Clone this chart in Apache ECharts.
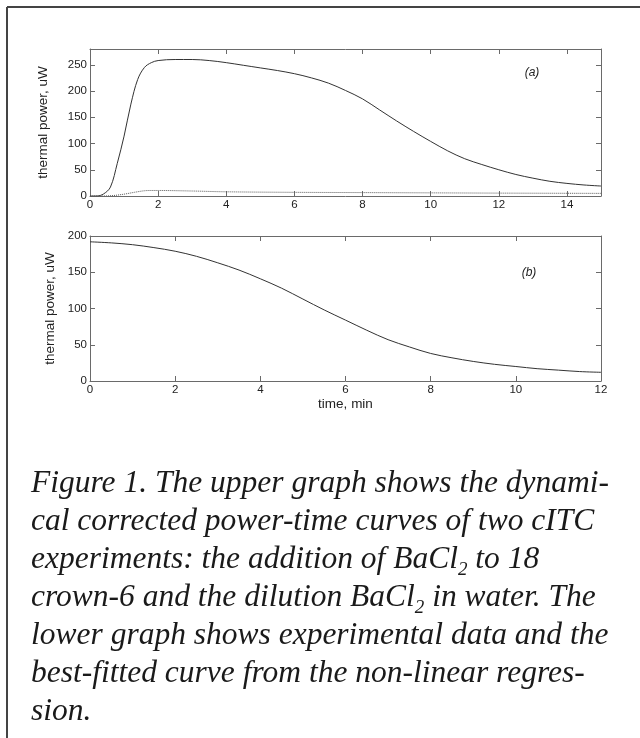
<!DOCTYPE html>
<html>
<head>
<meta charset="utf-8">
<script src="https://cdn.jsdelivr.net/npm/echarts@6/dist/echarts.min.js"></script>
<style>
html, body { margin: 0; padding: 0; background: #fff; }
#chart { width: 640px; height: 738px; }
</style>
</head>
<body>
<div id="chart"></div>
<script>
// (a) upper graph: addition of BaCl2 to 18-crown-6 (solid) and dilution (dotted)
var timeA = [0, 0.2, 0.4, 0.6, 0.8, 1.0, 1.2, 1.4, 1.6, 1.8, 2.0, 2.5, 3, 3.5, 4, 4.5, 5, 5.5, 6, 6.5,
             7, 7.5, 8, 8.5, 9, 9.5, 10, 10.5, 11, 11.5, 12, 12.5, 13, 13.5, 14, 14.5, 15];
var powerA = [0, 0, 4, 17, 62, 114, 175, 222, 245, 254, 258, 260, 260, 258, 254, 249, 244, 239, 233, 225,
              215, 201, 185, 164, 143, 123, 104, 86, 71, 60, 50, 41, 34, 28, 24, 21, 19];
var timeDil = [0, 0.4, 0.7, 1.0, 1.3, 1.6, 1.8, 2.0, 3, 4, 6, 8, 10, 12, 15];
var powerDil = [0, 0, 1, 3.5, 7, 10, 10.5, 10.5, 9.5, 8, 7, 6.5, 6, 5.5, 5];

// (b) lower graph: experimental data / fitted curve
var timeB = [0, 0.5, 1, 1.5, 2, 2.5, 3, 3.5, 4, 4.5, 5, 5.5, 6, 6.5, 7, 7.5, 8, 8.5, 9, 9.5, 10, 10.5, 11, 11.5, 12];
var powerB = [192, 190.5, 188, 184, 179, 172, 163, 153, 141, 128, 113, 98, 84, 70, 57, 47, 38, 32, 27, 23, 20, 17, 15, 13, 12];

var captionLines = [
    'Figure 1. The upper graph shows the dynami-',
    'cal corrected power-time curves of two cITC',
    'experiments: the addition of BaCl{s|2} to 18',
    'crown-6 and the dilution BaCl{s|2} in water. The',
    'lower graph shows experimental data and the',
    'best-fitted curve from the non-linear regres-',
    'sion.'
];

function pairs(xs, ys) {
    return xs.map(function (x, i) { return [x, ys[i]]; });
}

var axisGrey = '#6a6a6a';
var textCol = '#222';
var font = 'Liberation Sans';

// matlab-like box axis: ticks inside, optional labels
function mkAxis(grid, pos, min, max, interval, labels) {
    return {
        type: 'value',
        gridIndex: grid,
        position: pos,
        min: min,
        max: max,
        interval: interval,
        splitLine: { show: false },
        axisLine: { show: true, onZero: false, lineStyle: { color: axisGrey, width: 1 } },
        axisTick: { show: true, inside: true, length: 5, lineStyle: { color: axisGrey } },
        axisLabel: {
            show: labels,
            showMaxLabel: (max % interval === 0),
            color: textCol,
            fontFamily: font,
            fontSize: 11.5,
            margin: 3
        }
    };
}

var nameStyle = { color: textCol, fontFamily: font, fontSize: 13.5 };

var xa = mkAxis(0, 'bottom', 0, 15, 2, true);
var xaTop = mkAxis(0, 'top', 0, 15, 2, false);
var ya = mkAxis(0, 'left', 0, 280, 50, true);
ya.name = 'thermal power, uW';
ya.nameLocation = 'middle';
ya.nameGap = 40;
ya.nameTextStyle = nameStyle;
var yaRight = mkAxis(0, 'right', 0, 280, 50, false);

var xb = mkAxis(1, 'bottom', 0, 12, 2, true);
xb.name = 'time, min';
xb.nameLocation = 'middle';
xb.nameGap = 15;
xb.nameTextStyle = nameStyle;
var xbTop = mkAxis(1, 'top', 0, 12, 2, false);
var yb = mkAxis(1, 'left', 0, 200, 50, true);
yb.name = 'thermal power, uW';
yb.nameLocation = 'middle';
yb.nameGap = 28;
yb.nameTextStyle = nameStyle;
var ybRight = mkAxis(1, 'right', 0, 200, 50, false);

var chart = echarts.init(document.getElementById('chart'), null, { renderer: 'canvas' });

var option = {
    backgroundColor: '#fff',
    animation: false,
    grid: [
        { left: 90, top: 49, width: 511, height: 147, outerBoundsMode: 'none' },
        { left: 90, top: 236, width: 511, height: 145, outerBoundsMode: 'none' }
    ],
    xAxis: [xa, xaTop, xb, xbTop],
    yAxis: [ya, yaRight, yb, ybRight],
    series: [
        {
            type: 'line', xAxisIndex: 0, yAxisIndex: 0,
            data: pairs(timeA, powerA), smooth: 0.35, showSymbol: false,
            lineStyle: { color: '#333', width: 1 }
        },
        {
            type: 'line', xAxisIndex: 0, yAxisIndex: 0,
            data: pairs(timeDil, powerDil), smooth: 0.35, showSymbol: false,
            lineStyle: { color: '#555', width: 1, type: 'dotted' }
        },
        {
            type: 'line', xAxisIndex: 2, yAxisIndex: 2,
            data: pairs(timeB, powerB), smooth: 0.35, showSymbol: false,
            lineStyle: { color: '#333', width: 1 }
        }
    ],
    graphic: [
        { type: 'line', shape: { x1: 7, y1: 7, x2: 640, y2: 7 }, style: { stroke: '#444', lineWidth: 2 } },
        { type: 'line', shape: { x1: 7, y1: 7, x2: 7, y2: 738 }, style: { stroke: '#444', lineWidth: 2 } },
        {
            type: 'text', x: 532, y: 73,
            style: { text: '(a)', fontFamily: font, fontStyle: 'italic', fontSize: 12, fill: textCol, align: 'center', verticalAlign: 'middle' }
        },
        {
            type: 'text', x: 529, y: 273,
            style: { text: '(b)', fontFamily: font, fontStyle: 'italic', fontSize: 12, fill: textCol, align: 'center', verticalAlign: 'middle' }
        },
        {
            type: 'text', x: 31, y: 465,
            style: {
                text: captionLines.join('\n'),
                fontFamily: 'Liberation Serif',
                fontStyle: 'italic',
                fontSize: 31.5,
                lineHeight: 38,
                fill: '#1a1a1a',
                align: 'left',
                verticalAlign: 'top',
                rich: {
                    s: {
                        fontFamily: 'Liberation Serif',
                        fontStyle: 'italic',
                        fontSize: 19,
                        lineHeight: 16,
                        fill: '#1a1a1a',
                        verticalAlign: 'bottom'
                    }
                }
            }
        }
    ]
};

chart.setOption(option);
window.onresize = function () {
    chart.resize();
};
</script>
</body>
</html>
